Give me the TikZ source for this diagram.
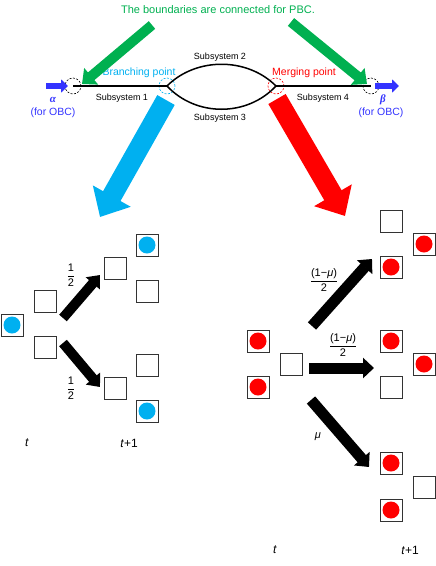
\documentclass[tikz,border=0pt]{standalone}
\usepackage{fontspec}
\usepackage{amsmath}
\setmainfont{Liberation Sans}
\newfontfamily\grkfont{Liberation Serif}
\usetikzlibrary{arrows.meta}
\definecolor{pgreen}{RGB}{0,176,80}
\definecolor{pcyan}{RGB}{0,176,240}
\definecolor{pred}{RGB}{255,0,0}
\definecolor{pblue}{RGB}{51,51,255}
\begin{document}
\begin{tikzpicture}[x=1pt,y=-1pt,
  font=\fontsize{9}{10}\selectfont,
  cell/.style={draw=black!80, line width=0.9pt, minimum size=22pt, inner sep=0pt},
  cellc/.style={cell, path picture={\fill[pcyan] (path picture bounding box.center) circle (8.5pt);}},
  cellr/.style={cell, path picture={\fill[pred] (path picture bounding box.center) circle (8.5pt);}},
  lbl/.style={font=\fontsize{10.5}{12}\selectfont, inner sep=0pt},
  sub/.style={font=\fontsize{9}{10}\selectfont, inner sep=0pt},
  dcirc/.style={circle, draw, dash pattern=on 2pt off 1.5pt, line width=0.6pt, minimum size=16pt, inner sep=0pt},
  fatarrow/.style={line width=20pt, -{Triangle[width=42pt,length=24pt]}},
  greenarrow/.style={pgreen, line width=10pt, -{Triangle[width=21pt,length=12pt]}},
  bluearrow/.style={pblue, line width=6pt, -{Triangle[width=13pt,length=7pt]}},
  blkarrow/.style={black, line width=10pt, -{Triangle[width=18pt,length=11pt]}},
  blkarrowr/.style={black, line width=11pt, -{Triangle[width=20pt,length=11pt]}},
  tlbl/.style={font=\fontsize{12}{14}\selectfont, inner sep=0pt},
  frac/.style={font=\fontsize{11}{12}\selectfont, inner sep=0pt}
]
\useasboundingbox (0,0) rectangle (436,566);

% ---------- top part ----------
\node[lbl, font=\fontsize{11}{12}\selectfont, text=pgreen] (title) at (218,10) {The boundaries are connected for PBC.};

\node[dcirc] (lc) at (73,86) {};
\node[dcirc, draw=pcyan] (bp) at (167,86) {};
\node[dcirc, draw=pred] (mp) at (276,86) {};
\node[dcirc] (rc) at (371,86) {};

\draw[line width=1.2pt] (lc.center) -- (bp.center);
\draw[line width=1.2pt] (mp.center) -- (rc.center);
\draw[line width=1.5pt] (bp.center) .. controls (196,57) and (247,57) .. (mp.center);
\draw[line width=1.5pt] (bp.center) .. controls (196,117) and (247,117) .. (mp.center);

\node[sub] (s1) at (122,98) {Subsystem 1};
\node[sub] (s2) at (220,57) {Subsystem 2};
\node[sub] (s3) at (220,118) {Subsystem 3};
\node[sub] (s4) at (323,98) {Subsystem 4};
\node[lbl, text=pcyan] (bpl) at (139,73) {Branching point};
\node[lbl, text=pred] (mpl) at (304,73) {Merging point};

\coordinate (ba1) at (46,86);
\coordinate (ba2) at (68,86);
\draw[bluearrow] (ba1) -- (ba2);
\coordinate (bb1) at (375,86);
\coordinate (bb2) at (399,86);
\draw[bluearrow] (bb1) -- (bb2);
\node[lbl, text=pblue, font=\fontsize{11}{12}\selectfont\grkfont\bfseries\itshape] (alpha) at (53,100) {α};
\node[lbl, text=pblue] (obc1) at (53,113) {(for OBC)};
\node[lbl, text=pblue, font=\fontsize{11}{12}\selectfont\grkfont\bfseries\itshape] (beta) at (383,100) {β};
\node[lbl, text=pblue] (obc2) at (381,113) {(for OBC)};

\coordinate (ga1) at (152,25);
\coordinate (ga2) at (82,84);
\draw[greenarrow] (ga1) -- (ga2);
\coordinate (gb1) at (291,22);
\coordinate (gb2) at (367,84);
\draw[greenarrow] (gb1) -- (gb2);

\coordinate (ca1) at (166,100);
\coordinate (ca2) at (100,217);
\draw[fatarrow, pcyan] (ca1) -- (ca2);
\coordinate (ra1) at (277,99);
\coordinate (ra2) at (345,216);
\draw[fatarrow, pred] (ra1) -- (ra2);

% ---------- left diagram ----------
\node[cellc] (L0) at (12,325) {};
\node[cell] (L1) at (45,301) {};
\node[cell] (L2) at (45,347) {};

\node[cell] (U0) at (115,268) {};
\node[cellc] (U1) at (147,245) {};
\node[cell] (U2) at (147,291) {};

\node[cell] (D1) at (147,365) {};
\node[cell] (D0) at (115,388) {};
\node[cellc] (D2) at (147,411) {};

\coordinate (la1) at (63,318);
\coordinate (la2) at (100,275);
\draw[blkarrow] (la1) -- (la2);
\coordinate (lb1) at (63,343);
\coordinate (lb2) at (100,387);
\draw[blkarrow] (lb1) -- (lb2);

\node[frac] (h1) at (71,275) {$\dfrac{\text{1}}{\text{2}}$};
\node[frac] (h2) at (71,388) {$\dfrac{\text{1}}{\text{2}}$};

\node[tlbl] (lt) at (27,443) {\textit{t}};
\node[tlbl] (lt1) at (129,443) {\textit{t}+1};

% ---------- right diagram ----------
\node[cellr] (R0a) at (258,341) {};
\node[cellr] (R0b) at (258,387) {};
\node[cell] (R0c) at (291,364) {};

\node[cell] (T1) at (391,221) {};
\node[cellr] (T2) at (424,244) {};
\node[cellr] (T3) at (391,267) {};

\node[cellr] (M1) at (391,341) {};
\node[cellr] (M2) at (424,364) {};
\node[cell] (M3) at (391,387) {};

\node[cellr] (B1) at (391,463) {};
\node[cell] (B2) at (424,487) {};
\node[cellr] (B3) at (391,510) {};

\coordinate (rua) at (312,326);
\coordinate (rub) at (372,259);
\draw[blkarrowr] (rua) -- (rub);
\coordinate (rma) at (309,368);
\coordinate (rmb) at (374,368);
\draw[blkarrowr] (rma) -- (rmb);
\coordinate (rda) at (311,400);
\coordinate (rdb) at (369,467);
\draw[blkarrowr] (rda) -- (rdb);

\node[frac] (f1) at (324,280) {$\dfrac{\text{(1−\textit{μ})}}{\text{2}}$};
\node[frac] (f2) at (343,345) {$\dfrac{\text{(1−\textit{μ})}}{\text{2}}$};
\node[frac] (mu) at (318,437) {\textit{μ}};

\node[tlbl] (rt) at (275,550) {\textit{t}};
\node[tlbl] (rt1) at (410,550) {\textit{t}+1};
\end{tikzpicture}
\end{document}
